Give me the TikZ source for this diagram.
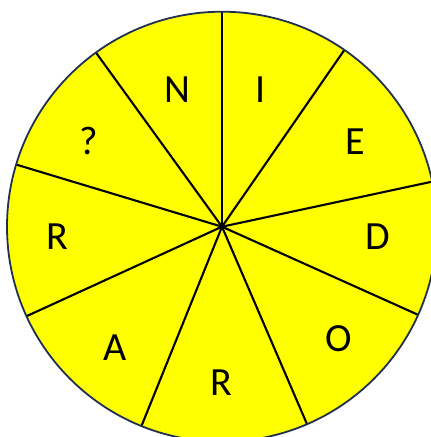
\documentclass[tikz,border=0pt]{standalone}
\usepackage{fontspec}
\setmainfont{Carlito}
\usepackage{xcolor}
\usetikzlibrary{calc}
\definecolor{wheelfill}{HTML}{FFFF00}
\definecolor{wheelrim}{HTML}{1F3050}

\begin{document}
\begin{tikzpicture}[x=1pt, y=1pt,
    letter/.style={font=\fontsize{40}{40}\selectfont, inner sep=0pt},
    spoke/.style={line width=2.1pt}]
    \useasboundingbox (0,0) rectangle (431,437);
    \clip (0,0) rectangle (431,437);
    % Wheel
    \coordinate (c) at (222, 210.3);
    \fill[wheelfill] (c) circle (215);
    \foreach \ang [count=\i] in {90, 55.3, 12.1, -24.2, -66.7, -112, -155.4, 163.2, 125.9}
        \coordinate (s\i) at ($(c)+(\ang:215)$);
    \foreach \i in {1,...,9}
        \draw[spoke] (c) -- (s\i);
    \draw[wheelrim, line width=1.8pt] (c) circle (215);

    % Letters
    \node[letter] (n) at (177, 347) {N};
    \node[letter] (i) at (261, 347) {I};
    \node[letter] (e) at (355, 295) {E};
    \node[letter] (d) at (378, 200) {D};
    \node[letter] (o) at (339, 98) {O};
    \node[letter] (r1) at (221, 54) {R};
    \node[letter] (a) at (115, 89) {A};
    \node[letter] (r2) at (57, 200) {R};
    \node[letter] (q) at (89, 296) {?};
\end{tikzpicture}
\end{document}
